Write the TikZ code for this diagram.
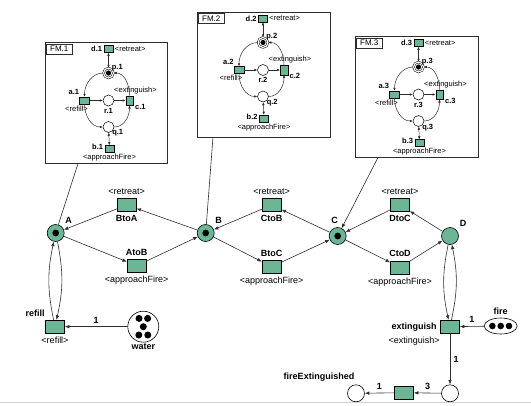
\documentclass[tikz,border=0pt]{standalone}
\usepackage{fontspec}
\setmainfont{Liberation Sans}
\usetikzlibrary{positioning,
        shapes.geometric,
        arrows.meta}
\definecolor{netgreen}{RGB}{108,182,150}
\definecolor{linegray}{RGB}{45,45,45}

\tikzset{
  mplace/.style={circle,draw=black,fill=netgreen,minimum size=17pt,inner sep=0pt,line width=0.6pt},
  wplace/.style={circle,draw=black,fill=white,minimum size=17pt,inner sep=0pt,line width=0.6pt},
  hastoken/.style={path picture={\fill[black] (path picture bounding box.center) circle (3.4pt);}},
  mtrans/.style={rectangle,draw=black,fill=netgreen,minimum width=19pt,minimum height=13pt,inner sep=0pt,line width=0.6pt},
  iplace/.style={circle,draw=black,fill=white,minimum size=11pt,inner sep=0pt,line width=0.5pt},
  imarked/.style={double,double distance=1.2pt,minimum size=10pt,
    path picture={\fill[black] (path picture bounding box.center) circle (2.6pt);}},
  itrans/.style={rectangle,draw=black,fill=netgreen,minimum width=9pt,minimum height=7pt,inner sep=0pt,line width=0.5pt},
  itransv/.style={itrans,minimum width=7.5pt,minimum height=9.5pt},
  namelab/.style={font=\fontsize{9}{10}\selectfont\bfseries},
  actlab/.style={font=\fontsize{9}{10}\selectfont},
  inamelab/.style={font=\fontsize{7.5}{8}\selectfont\bfseries,inner sep=1.5pt},
  iactlab/.style={font=\fontsize{7.5}{8}\selectfont,inner sep=1.5pt},
  flow/.style={draw=linegray,line width=0.6pt,-{Latex[length=4.5pt,width=3.5pt]}},
  iflow/.style={draw=linegray,line width=0.5pt,-{Latex[length=3pt,width=2.6pt]}},
  fmframe/.style={draw=linegray,line width=0.8pt},
  fmtag/.style={draw=linegray,line width=0.6pt,font=\fontsize{8}{9}\selectfont,inner sep=1.5pt,minimum width=26pt,minimum height=10pt}
}

\begin{document}
\begin{tikzpicture}[x=1pt,y=-1pt]
  \useasboundingbox (0,0) rectangle (531,405);

  % the three fireman nets
  \foreach \i/\cx/\ty/\bl/\br/\bb/\fx in {1/108.5/42.5/45/167/163.5/78, 2/263/12/197/330/137/213, 3/418.5/36.5/355/478/157.5/378}{
    \draw[fmframe] (\bl,\ty) rectangle (\br,\bb);
    \node[fmtag,anchor=north west] (tag\i) at (\bl+1,\ty+1) {FM.\i};
    \node[itrans,label={[inamelab]left:d.\i},label={[iactlab]right:<retreat>}] (d\i) at (\cx,\ty+6.5) {};
    \node[iplace,imarked,label={[inamelab,xshift=-2pt,yshift=-3pt]above right:p.\i}] (p\i) at (\cx,\ty+30.5) {};
    \node[itrans,minimum width=10pt,label={[inamelab]above left:a.\i},label={[iactlab,xshift=-8pt]below:<refill>}] (a\i) at (\cx-24,\ty+58) {};
    \node[iplace,label={[inamelab]below:r.\i}] (r\i) at (\cx,\ty+58) {};
    \node[itransv,label={[inamelab,yshift=2pt]below right:c.\i},label={[iactlab,xshift=6pt]above:<extinguish>}] (c\i) at (\cx+21,\ty+58) {};
    \node[iplace,label={[inamelab,xshift=-2pt,yshift=3pt]below right:q.\i}] (q\i) at (\cx,\ty+84.5) {};
    \node[itrans,label={[inamelab,yshift=2pt]left:b.\i},label={[iactlab]below:<approachFire>}] (b\i) at (\cx+1,\ty+106.5) {};
    \coordinate (foot\i) at (\fx,\bb);

    \draw[iflow,{Latex[length=3pt,width=2.6pt]}-{Latex[length=3pt,width=2.6pt]}] (d\i) -- (p\i);
    \draw[iflow,{Latex[length=3pt,width=2.6pt]}-{Latex[length=3pt,width=2.6pt]}] (q\i) -- (b\i);
    \draw[iflow] (p\i) to[out=180,in=90] (a\i);
    \draw[iflow] (c\i) to[out=90,in=0] (p\i);
    \draw[iflow] (a\i) -- (r\i);
    \draw[iflow] (r\i) -- (c\i);
    \draw[iflow] (a\i) to[out=-90,in=180] (q\i);
    \draw[iflow] (q\i) to[out=0,in=-90] (c\i);
  }

  % locations
  \node[mplace,hastoken,label={[namelab]above right:A}] (A) at (55.7,233) {};
  \node[mplace,hastoken,label={[namelab]above right:B}] (B) at (205.7,233) {};
  \node[mplace,hastoken,label={[namelab,xshift=-3pt]above:C}] (C) at (337.7,236) {};
  \node[mplace,label={[namelab]above right:D}] (D) at (450,236) {};

  \node[mtrans,label={[actlab]above:<retreat>},label={[namelab]below:BtoA}] (BtoA) at (126.7,205) {};
  \node[mtrans,label={[namelab]above:AtoB},label={[actlab]below:<approachFire>}] (AtoB) at (136.7,265.7) {};
  \node[mtrans,label={[actlab]above:<retreat>},label={[namelab]below:CtoB}] (CtoB) at (271.7,205) {};
  \node[mtrans,label={[namelab]above:BtoC},label={[actlab]below:<approachFire>}] (BtoC) at (271.7,266.7) {};
  \node[mtrans,label={[actlab]above:<retreat>},label={[namelab]below:DtoC}] (DtoC) at (400,205) {};
  \node[mtrans,label={[namelab]above:CtoD},label={[actlab]below:<approachFire>}] (CtoD) at (400,267.3) {};

  % resources
  \node[mtrans,label={[namelab]above left:refill},label={[actlab]below:<refill>}] (refill) at (55,326.7) {};
  \node[circle,draw=black,line width=0.6pt,fill=white,minimum size=31pt,inner sep=0pt,label={[namelab,yshift=2pt]below:water},
    path picture={\fill[black,shift={(path picture bounding box.center)}] (-4.3pt,8.3pt) circle (3.5pt) (4.3pt,8.3pt) circle (3.5pt)
      (0pt,0pt) circle (3.5pt) (-4.5pt,-8.3pt) circle (3.5pt) (4.5pt,-8.3pt) circle (3.5pt);}] (water) at (143.3,326.7) {};
  \node[mtrans,label={[namelab]left:extinguish},label={[actlab]below left:<extinguish>}] (ext) at (450,326.7) {};
  \node[ellipse,draw=black,line width=0.6pt,fill=white,minimum width=33pt,minimum height=16pt,inner sep=0pt,label={[namelab]above:fire},
    path picture={\fill[black,shift={(path picture bounding box.center)}] (-8.3pt,0pt) circle (3.3pt) (0pt,0pt) circle (3.3pt) (8.3pt,0pt) circle (3.3pt);}] (fire) at (500.7,326) {};
  \node[wplace] (extOut) at (450,393.3) {};
  \node[mtrans] (collect) at (404,392.7) {};
  \node[wplace,label={[namelab,xshift=-37pt]above:fireExtinguished}] (fireExt) at (356,393.3) {};

  % arcs
  \draw[flow] (A) -- (AtoB);
  \draw[flow] (AtoB) -- (B);
  \draw[flow] (B) -- (BtoA);
  \draw[flow] (BtoA) -- (A);
  \draw[flow] (B) -- (BtoC);
  \draw[flow] (BtoC) -- (C);
  \draw[flow] (C) -- (CtoB);
  \draw[flow] (CtoB) -- (B);
  \draw[flow] (C) -- (CtoD);
  \draw[flow] (CtoD) -- (D);
  \draw[flow] (D) -- (DtoC);
  \draw[flow] (DtoC) -- (C);

  \draw[flow] (A) to[bend left=12] (refill);
  \draw[flow] (refill) to[bend left=12] (A);
  \draw[flow] (D) to[bend right=12] (ext);
  \draw[flow] (ext) to[bend right=12] (D);
  \draw[flow] (water) -- node[namelab,above]{1} (refill);
  \draw[flow] (fire) -- node[namelab,above]{1} (ext);
  \draw[flow] (ext) -- node[namelab,right]{1} (extOut);
  \draw[flow] (extOut) -- node[namelab,above]{3} (collect);
  \draw[flow] (collect) -- node[namelab,above]{1} (fireExt);

  % nets sit in locations
  \draw[draw=linegray,line width=0.6pt] (foot1) -- (A);
  \draw[draw=linegray,line width=0.6pt] (foot2) -- (B);
  \draw[flow] (foot3) -- (C);

  \draw[gray!35,line width=1pt] (0,402) -- (531,402);
\end{tikzpicture}
\end{document}
